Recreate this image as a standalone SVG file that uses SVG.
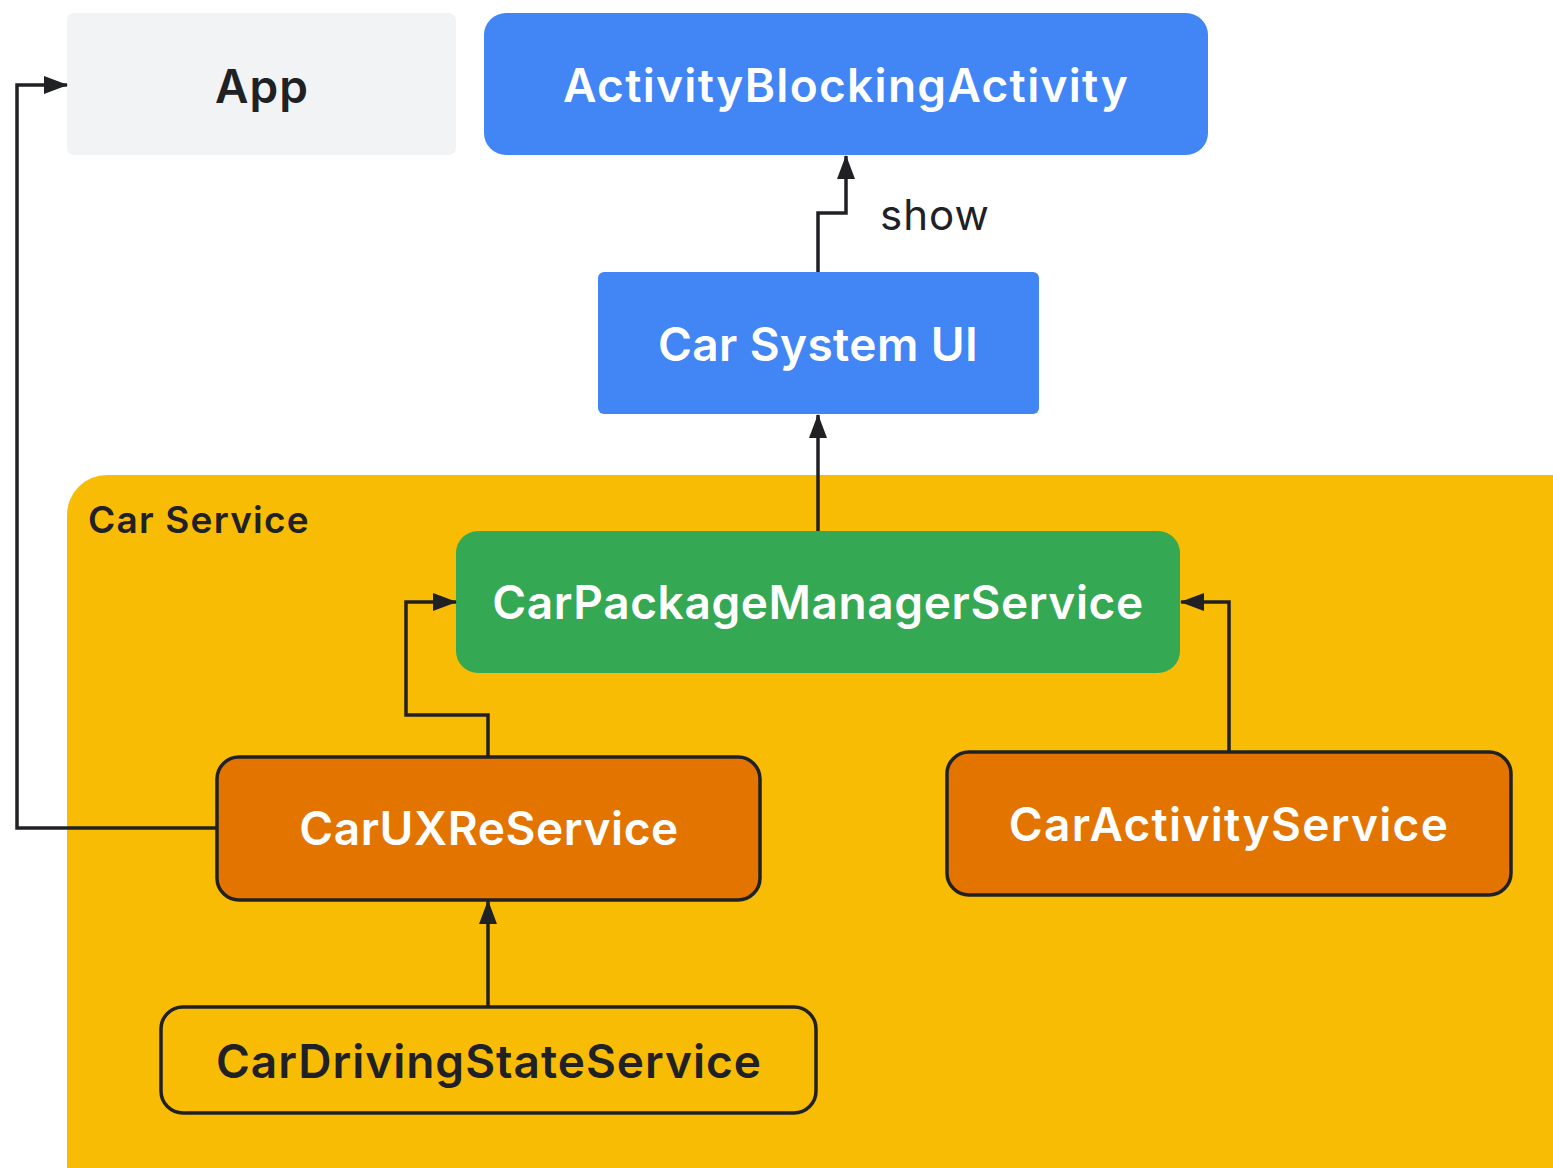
<svg xmlns="http://www.w3.org/2000/svg" width="1553" height="1168" viewBox="0 0 1553 1168">
<style>
.t{font-family:"Inter","Open Sans","Liberation Sans",sans-serif;font-weight:600;text-anchor:middle;letter-spacing:1px}
.w{fill:#ffffff}
.d{fill:#202124}
.c{fill:none;stroke:#202124;stroke-width:3.5;stroke-linejoin:miter}
.b{stroke:#202124;stroke-width:3.5}
</style>
<defs>
<marker id="ah" viewBox="0 0 24 18" refX="23" refY="9" markerWidth="24" markerHeight="18" markerUnits="userSpaceOnUse" orient="auto">
<path d="M0,0 L24,9 L0,18 Z" fill="#202124"/>
</marker>
</defs>
<rect width="1553" height="1168" fill="#ffffff"/>
<g id="car-service">
<rect x="67" y="475" width="1540" height="740" rx="40" fill="#f9bc05"/>
<text x="88" y="533" class="t d" style="text-anchor:start;letter-spacing:1.2px" font-size="37">Car Service</text>
</g>
<g id="app">
<rect x="67" y="13" width="389" height="142" rx="7" fill="#f1f3f4"/>
<text x="262" y="103" class="t d" font-size="46">App</text>
</g>
<g id="activity-blocking-activity">
<rect x="484" y="13" width="724" height="142" rx="22" fill="#4285f4"/>
<text x="846" y="102" class="t w" font-size="46" style="letter-spacing:1.3px">ActivityBlockingActivity</text>
</g>
<g id="car-system-ui">
<rect x="598" y="272" width="441" height="142" rx="6" fill="#4285f4"/>
<text x="818" y="361" class="t w" font-size="46" style="letter-spacing:0.4px">Car System UI</text>
</g>
<g id="car-package-manager-service">
<rect x="456" y="531" width="724" height="142" rx="22" fill="#34a853"/>
<text x="818" y="619" class="t w" font-size="46" style="letter-spacing:0.6px">CarPackageManagerService</text>
</g>
<g id="car-uxr-service">
<rect x="217" y="757" width="543" height="143" rx="22" fill="#e37400" class="b"/>
<text x="489" y="845" class="t w" font-size="46" style="letter-spacing:0.6px">CarUXReService</text>
</g>
<g id="car-activity-service">
<rect x="947" y="752" width="564" height="143" rx="22" fill="#e37400" class="b"/>
<text x="1229" y="841" class="t w" font-size="46" style="letter-spacing:1.3px">CarActivityService</text>
</g>
<g id="car-driving-state-service">
<rect x="161" y="1007" width="655" height="106" rx="22" fill="#f9bc05" class="b"/>
<text x="489" y="1078" class="t d" font-size="46">CarDrivingStateService</text>
</g>
<g id="connectors">
<path class="c" d="M818,272 V213 H846 V156" marker-end="url(#ah)"/>
<text x="880" y="230" font-family="Inter,'Open Sans','Liberation Sans',sans-serif" font-size="42" letter-spacing="1" fill="#202124">show</text>
<path class="c" d="M818,531 V415" marker-end="url(#ah)"/>
<path class="c" d="M488,757 V715 H406 V602 H456" marker-end="url(#ah)"/>
<path class="c" d="M1229,752 V602 H1181" marker-end="url(#ah)"/>
<path class="c" d="M488,1007 V901" marker-end="url(#ah)"/>
<path class="c" d="M217,828 H17 V85 H67" marker-end="url(#ah)"/>
</g>
</svg>
